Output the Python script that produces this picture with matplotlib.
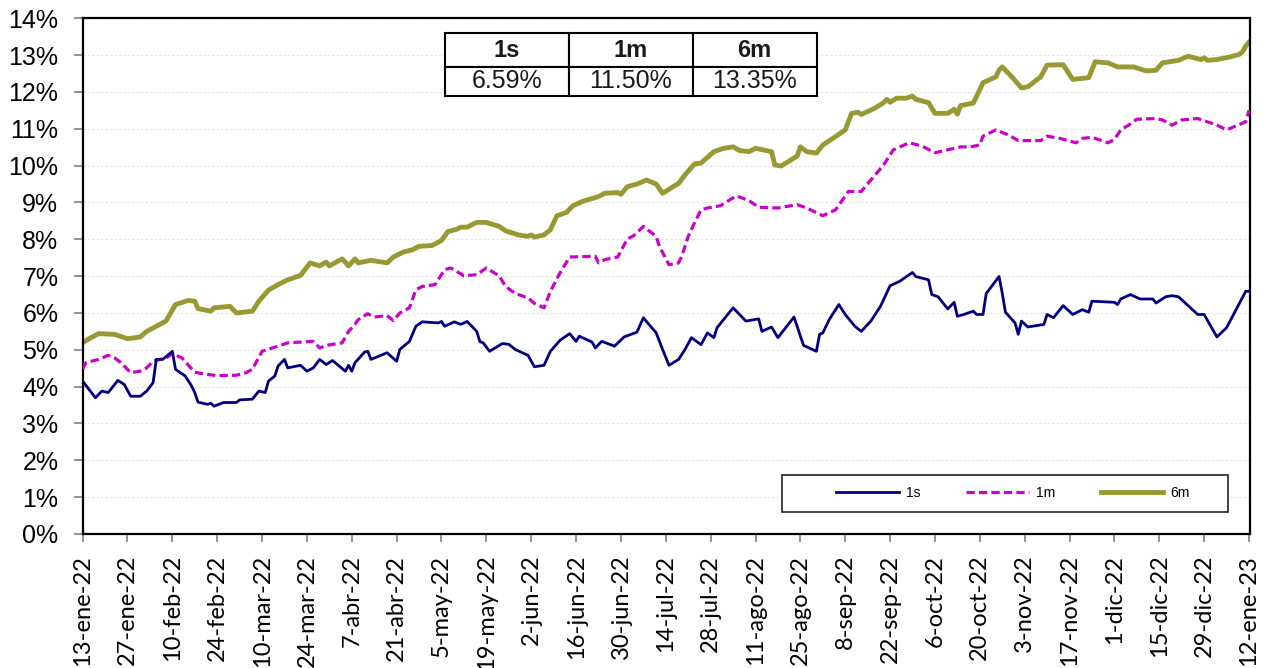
import matplotlib
matplotlib.use("Agg")
import matplotlib.pyplot as plt
import pandas as pd
import numpy as np
from matplotlib.patches import Rectangle

# ---------------- data ----------------
start_date = "2022-01-13"
end_date = "2023-01-12"

# 1s series (day offset from 13-ene-22, value in %)
days_1s = [0, 4, 6, 8, 11, 13, 15, 18, 20, 22, 23, 25, 28, 29, 32, 34, 35, 36, 39, 40, 41, 44, 48, 49,
           53, 55, 57, 58, 60, 61, 63, 64, 68, 70, 72, 74, 76, 78, 82, 83, 84, 85, 88, 89, 90, 95, 98,
           99, 102, 104, 106, 111, 112, 113, 116, 118, 120, 123, 124, 125, 127, 131, 133, 135, 139,
           141, 144, 146, 149, 152, 154, 155, 159, 160, 162, 166, 169, 173, 175, 179, 181, 183, 186,
           188, 190, 193, 195, 197, 198, 203, 207, 211, 212, 215, 217, 222, 223, 224, 225, 229, 230,
           231, 233, 236, 238, 241, 243, 246, 249, 252, 255, 259, 260, 264, 265, 267, 270, 272, 273,
           275, 278, 279, 281, 282, 286, 287, 288, 291, 292, 293, 295, 300, 301, 303, 306, 309, 312,
           314, 315, 322, 323, 324, 327, 330, 334, 335, 338, 340, 342, 348, 350, 354, 357, 363, 364]
vals_1s = [4.15, 3.70, 3.88, 3.84, 4.17, 4.06, 3.74, 3.74, 3.88, 4.11, 4.74, 4.74, 4.96, 4.47, 4.29,
           4.02, 3.84, 3.58, 3.52, 3.55, 3.47, 3.57, 3.57, 3.64, 3.66, 3.88, 3.84, 4.15, 4.29, 4.56,
           4.74, 4.51, 4.58, 4.42, 4.51, 4.74, 4.60, 4.71, 4.42, 4.58, 4.42, 4.65, 4.94, 4.96, 4.74,
           4.92, 4.69, 5.01, 5.23, 5.64, 5.76, 5.73, 5.77, 5.64, 5.76, 5.69, 5.77, 5.50, 5.22, 5.19,
           4.96, 5.17, 5.15, 5.01, 4.85, 4.54, 4.58, 4.96, 5.26, 5.44, 5.23, 5.37, 5.21, 5.05, 5.23,
           5.10, 5.35, 5.48, 5.87, 5.46, 5.01, 4.58, 4.74, 5.01, 5.33, 5.14, 5.46, 5.33, 5.60, 6.14,
           5.78, 5.84, 5.50, 5.62, 5.33, 5.89, 5.64, 5.37, 5.12, 4.96, 5.42, 5.46, 5.82, 6.23, 5.96,
           5.64, 5.50, 5.78, 6.18, 6.74, 6.86, 7.10, 6.99, 6.90, 6.50, 6.44, 6.11, 6.29, 5.91, 5.96,
           6.05, 5.96, 5.96, 6.53, 6.99, 6.54, 6.02, 5.73, 5.42, 5.78, 5.62, 5.69, 5.96, 5.87, 6.20,
           5.96, 6.09, 6.02, 6.32, 6.29, 6.23, 6.38, 6.50, 6.38, 6.38, 6.27, 6.44, 6.47, 6.44, 5.96,
           5.96, 5.35, 5.60, 6.59, 6.59]

# 1m series
days_1m = [0, 1, 5, 8, 10, 12, 15, 18, 20, 22, 24, 26, 28, 31, 35, 39, 42, 48, 51, 53, 56, 61, 64,
           72, 74, 76, 81, 83, 85, 86, 89, 91, 95, 97, 99, 102, 104, 106, 110, 113, 115, 119, 123,
           126, 130, 132, 135, 139, 141, 144, 146, 149, 152, 160, 161, 163, 167, 170, 172, 175, 179,
           180, 183, 186, 187, 189, 191, 193, 195, 199, 204, 208, 211, 217, 223, 226, 231, 235, 239,
           243, 246, 250, 253, 258, 262, 266, 270, 274, 277, 280, 281, 285, 289, 292, 299, 301, 305,
           310, 312, 315, 320, 322, 324, 327, 329, 335, 337, 340, 343, 348, 351, 354, 357, 360, 363,
           364]
vals_1m = [4.47, 4.65, 4.74, 4.85, 4.78, 4.65, 4.38, 4.42, 4.51, 4.69, 4.74, 4.77, 4.90, 4.78, 4.39,
           4.33, 4.30, 4.31, 4.38, 4.47, 4.96, 5.10, 5.19, 5.23, 5.05, 5.12, 5.19, 5.50, 5.69, 5.82,
           5.98, 5.89, 5.93, 5.79, 6.00, 6.14, 6.63, 6.72, 6.77, 7.18, 7.22, 7.01, 7.04, 7.22, 7.01,
           6.72, 6.53, 6.41, 6.26, 6.14, 6.59, 7.09, 7.52, 7.54, 7.36, 7.45, 7.52, 8.01, 8.10, 8.35,
           8.08, 7.81, 7.31, 7.36, 7.54, 8.08, 8.45, 8.80, 8.85, 8.91, 9.18, 9.05, 8.87, 8.85, 8.94,
           8.85, 8.64, 8.80, 9.30, 9.30, 9.61, 10.02, 10.43, 10.62, 10.53, 10.35, 10.43, 10.51, 10.51,
           10.56, 10.80, 10.97, 10.83, 10.68, 10.68, 10.80, 10.74, 10.62, 10.74, 10.77, 10.62, 10.71,
           10.97, 11.13, 11.26, 11.28, 11.24, 11.10, 11.24, 11.28, 11.19, 11.10, 10.97, 11.08, 11.19,
           11.50]

# 6m series
days_6m = [0, 2, 5, 10, 14, 18, 20, 26, 29, 33, 35, 36, 40, 41, 46, 48, 53, 55, 58, 61, 64, 68, 71,
           74, 76, 77, 81, 83, 85, 86, 90, 95, 97, 100, 103, 105, 109, 112, 114, 117, 118, 120, 123,
           126, 130, 132, 136, 139, 140, 141, 144, 146, 148, 151, 153, 156, 161, 163, 167, 168, 170,
           173, 176, 179, 181, 186, 188, 191, 193, 197, 200, 203, 205, 208, 210, 215, 216, 218, 223,
           224, 226, 229, 231, 235, 238, 240, 242, 243, 247, 250, 251, 252, 254, 257, 259, 260, 264,
           266, 270, 272, 273, 274, 278, 281, 285, 286, 287, 290, 293, 295, 299, 301, 306, 309, 314,
           316, 320, 323, 328, 332, 335, 337, 342, 345, 349, 350, 351, 354, 358, 361, 362, 363, 364]
vals_6m = [5.19, 5.30, 5.44, 5.42, 5.30, 5.35, 5.50, 5.78, 6.23, 6.34, 6.32, 6.12, 6.05, 6.14, 6.18,
           6.00, 6.05, 6.32, 6.62, 6.77, 6.90, 7.02, 7.36, 7.28, 7.38, 7.28, 7.47, 7.28, 7.47, 7.36,
           7.43, 7.36, 7.52, 7.65, 7.72, 7.81, 7.83, 7.97, 8.21, 8.28, 8.33, 8.33, 8.46, 8.46, 8.35,
           8.23, 8.12, 8.08, 8.12, 8.06, 8.12, 8.26, 8.64, 8.73, 8.91, 9.03, 9.16, 9.25, 9.27, 9.22,
           9.43, 9.50, 9.61, 9.50, 9.25, 9.52, 9.75, 10.05, 10.07, 10.38, 10.47, 10.51, 10.41, 10.38,
           10.47, 10.38, 10.02, 9.99, 10.26, 10.51, 10.38, 10.34, 10.56, 10.79, 10.97, 11.42, 11.45,
           11.39, 11.55, 11.71, 11.80, 11.72, 11.83, 11.83, 11.89, 11.80, 11.71, 11.42, 11.42, 11.53,
           11.40, 11.63, 11.70, 12.25, 12.41, 12.59, 12.68, 12.41, 12.11, 12.14, 12.41, 12.73, 12.74,
           12.34, 12.39, 12.82, 12.79, 12.68, 12.68, 12.57, 12.59, 12.79, 12.86, 12.97, 12.88, 12.93,
           12.86, 12.88, 12.95, 13.02, 13.09, 13.25, 13.35]

series_names = ["1s", "1m", "6m"]
series_colors = ["#000080", "#CC00CC", "#999933"]

tick_labels = ["13-ene-22", "27-ene-22", "10-feb-22", "24-feb-22", "10-mar-22", "24-mar-22",
               "7-abr-22", "21-abr-22", "5-may-22", "19-may-22", "2-jun-22", "16-jun-22",
               "30-jun-22", "14-jul-22", "28-jul-22", "11-ago-22", "25-ago-22", "8-sep-22",
               "22-sep-22", "6-oct-22", "20-oct-22", "3-nov-22", "17-nov-22", "1-dic-22",
               "15-dic-22", "29-dic-22", "12-ene-23"]

table_header = ["1s", "1m", "6m"]
table_values = ["6.59%", "11.50%", "13.35%"]

# ---------------- plot ----------------
fig = plt.figure(figsize=(12.71, 6.68), dpi=100)
ax = fig.add_axes([0.065, 0.2006, 0.9185, 0.772])

t0 = pd.Timestamp(start_date)
def to_dates(d):
    return t0 + pd.to_timedelta(np.array(d), unit="D")

ax.plot(to_dates(days_1s), vals_1s, color=series_colors[0], lw=2.0, label=series_names[0],
        solid_joinstyle="round", zorder=4)
ax.plot(to_dates(days_1m), vals_1m, color=series_colors[1], lw=2.3, label=series_names[1],
        dashes=(2.6, 1.3), zorder=3)
ax.plot(to_dates(days_6m), vals_6m, color=series_colors[2], lw=3.5, label=series_names[2],
        solid_joinstyle="round", zorder=2)

tick_dates = pd.date_range(start_date, end_date, freq="14D")
ax.set_xticks(tick_dates)
ax.set_xticklabels(tick_labels, rotation=90, va="top", ha="center",
                   fontsize=17, family=["Lato", "DejaVu Sans"])
ax.set_xlim(t0, pd.Timestamp(end_date) + pd.Timedelta(hours=8))

ax.set_ylim(0, 14)
ax.set_yticks(range(0, 15))
ax.set_yticklabels([f"{v}%" for v in range(0, 15)], fontsize=18,
                   family=["Liberation Sans", "DejaVu Sans"])

ax.tick_params(axis="y", direction="out", length=6.5, width=1.2, color="#808080", pad=11)
ax.tick_params(axis="x", direction="out", length=6, width=1.2, color="#808080", pad=9)

for s in ax.spines.values():
    s.set_linewidth(1.6)
    s.set_color("black")

ax.grid(axis="y", color="#E3E3E3", lw=0.8, linestyle=(0, (2, 2)))
ax.set_axisbelow(True)

# summary table
tbl = ax.table(cellText=[table_values], colLabels=table_header, cellLoc="center",
               bbox=[0.3104, 0.850, 0.3184, 0.121], zorder=6)
tbl.auto_set_font_size(False)
for (r, c), cell in tbl.get_celld().items():
    cell.set_edgecolor("black")
    cell.set_linewidth(1.5)
    cell.set_facecolor("white")
    if r == 0:
        cell.set_height(34)
        cell.get_text().set_fontweight("bold")
        cell.get_text().set_fontsize(17)
    else:
        cell.set_height(28.7)
        cell.get_text().set_fontsize(18)
    cell.get_text().set_family(["Liberation Sans", "DejaVu Sans"])
    cell.get_text().set_color("#1a1a1a")

# legend box
ax.add_patch(Rectangle((0.5988, 0.0432), 0.3824, 0.0712, transform=ax.transAxes,
                       facecolor="white", edgecolor="#222222", lw=1.2, zorder=5))
leg = ax.legend(loc="center", bbox_to_anchor=(0.797, 0.0795), ncol=3, frameon=False,
                prop={"family": ["Liberation Sans", "DejaVu Sans"], "size": 10},
                handlelength=4.5, handletextpad=0.5, columnspacing=3.3)
leg.set_zorder(7)

fig.savefig("out.png", dpi=100)
